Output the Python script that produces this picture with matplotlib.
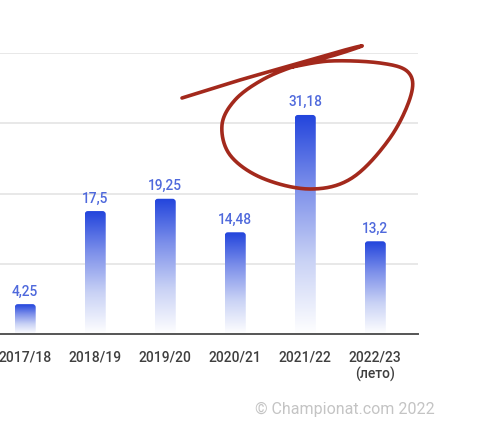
import numpy as np
import matplotlib
matplotlib.use("Agg")
import matplotlib.pyplot as plt
from matplotlib.patches import FancyBboxPatch
from matplotlib.colors import LinearSegmentedColormap

seasons = ["2017/18", "2018/19", "2019/20", "2020/21", "2021/22", "2022/23\n(лето)"]
values = [4.25, 17.5, 19.25, 14.48, 31.18, 13.2]
value_labels = ["4,25", "17,5", "19,25", "14,48", "31,18", "13,2"]

W, H = 500, 421
fig = plt.figure(figsize=(W / 100, H / 100), dpi=100)
fig.patch.set_facecolor("white")
plt.rcParams["font.family"] = ["Roboto", "DejaVu Sans"]

left, right = 0 / W, 418 / W
bottom, top = (H - 334) / H, (H - 53) / H
ax = fig.add_axes([left, bottom, right - left, top - bottom])
ax.set_xlim(-0.36, 5.61)
ax.set_ylim(0, 40)

for s in ["top", "right", "left"]:
    ax.spines[s].set_visible(False)
ax.spines["bottom"].set_color("#555555")
ax.spines["bottom"].set_linewidth(1.4)
ax.set_yticks([10, 20, 30, 40])
ax.yaxis.grid(True, color="#e4e4e4", linewidth=1.2)
ax.set_axisbelow(True)
ax.tick_params(axis="y", length=0, labelleft=False)
x = np.arange(len(seasons))
ax.set_xticks(x)
ax.set_xticklabels(seasons, fontsize=10, color="#3f3f3f", linespacing=1.2,
                   fontweight="medium")
ax.tick_params(axis="x", length=0, pad=12)

bars = ax.bar(x, values, width=0.3, color="none", edgecolor="none")

cmap = LinearSegmentedColormap.from_list(
    "g", ["#ffffff", "#c9d2f5", "#7d90ea", "#2244dc"])
grad = np.linspace(0, 1, 256).reshape(-1, 1)
for b, lab in zip(bars, value_labels):
    bx, bw, bh = b.get_x(), b.get_width(), b.get_height()
    patch = FancyBboxPatch((bx, 0), bw, bh,
                           boxstyle="round,pad=0,rounding_size=0.045",
                           mutation_aspect=10, facecolor="none",
                           edgecolor="none", transform=ax.transData)
    ax.add_patch(patch)
    im = ax.imshow(grad, cmap=cmap, origin="lower", aspect="auto",
                   extent=(bx, bx + bw, 0, bh), zorder=2, interpolation="bicubic")
    im.set_clip_path(patch)
    ax.annotate(lab, (b.get_x() + bw / 2, bh), xytext=(0, 4),
                textcoords="offset points", ha="center", va="bottom",
                fontsize=9.8, color="#4f69dc", fontweight="medium")
ax.set_xlim(-0.36, 5.61)
ax.set_ylim(0, 40)

# hand-drawn annotation (figure pixel coordinates, y from top)
pts = np.array([
    (182, 98), (240, 80), (300, 63), (345, 50), (362, 46),
    (335, 55), (295, 66), (262, 80), (235, 100), (222, 125),
    (230, 155), (262, 178), (310, 189), (352, 178), (390, 138),
    (411, 95), (408, 72), (380, 63), (330, 61), (292, 67),
])

def catmull(p, n=20):
    out = []
    pp = np.vstack([p[0], p, p[-1]])
    for i in range(1, len(pp) - 2):
        p0, p1, p2, p3 = pp[i - 1], pp[i], pp[i + 1], pp[i + 2]
        for t in np.linspace(0, 1, n, endpoint=False):
            t2, t3 = t * t, t * t * t
            out.append(0.5 * ((2 * p1) + (-p0 + p2) * t +
                              (2 * p0 - 5 * p1 + 4 * p2 - p3) * t2 +
                              (-p0 + 3 * p1 - 3 * p2 + p3) * t3))
    out.append(pp[-2])
    return np.array(out)

c = catmull(pts)
fig.add_artist(plt.Line2D(c[:, 0] / W, 1 - c[:, 1] / H, transform=fig.transFigure,
                          color="#a3291c", linewidth=2.6, solid_capstyle="round",
                          solid_joinstyle="round"))

fig.text(435 / W, 1 - 409 / H, "© Championat.com 2022", ha="right", va="center",
         fontsize=11.5, color="#c4c4c4")

fig.savefig("out.png", dpi=100, facecolor="white")
